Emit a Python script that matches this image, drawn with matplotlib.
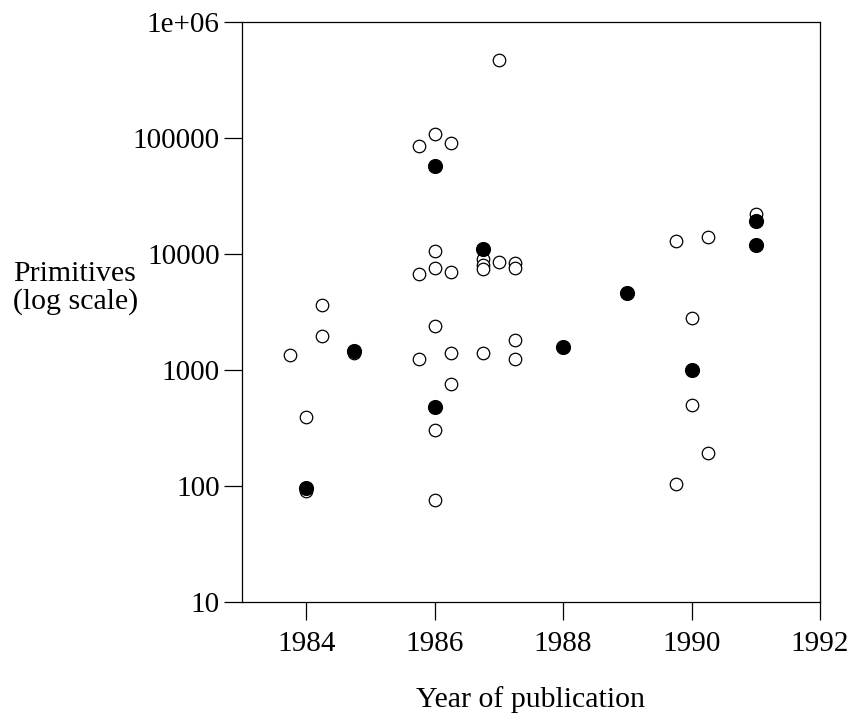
import matplotlib
matplotlib.use('Agg')
import matplotlib.pyplot as plt
from matplotlib.ticker import FixedLocator, NullLocator

plt.rcParams['font.family'] = ['Liberation Serif', 'DejaVu Serif']

# open circles: year, primitives
open_year = [1987, 1986, 1985.75, 1986.25,
             1986, 1986.75, 1986.75, 1986.75, 1987, 1987.25, 1987.25,
             1986, 1985.75, 1986.25, 1984.25, 1984.25, 1983.75, 1984.75,
             1986, 1985.75, 1986.25, 1986.75, 1987.25, 1987.25, 1986.25,
             1986, 1984, 1984, 1986,
             1991, 1989.75, 1990.25, 1990, 1990, 1990.25, 1989.75]
open_prims = [470000, 108000, 85000, 91000,
              10700, 9000, 8100, 7400, 8500, 8400, 7500,
              7500, 6700, 6950, 3600, 1960, 1350, 1400,
              2380, 1240, 1390, 1390, 1810, 1240, 757,
              305, 396, 91, 76,
              22000, 13000, 14100, 2790, 497, 191, 104]

# filled circles
filled_year = [1986, 1986.75, 1984.75, 1988, 1986, 1984,
               1991, 1991, 1989, 1990]
filled_prims = [57000, 11000, 1470, 1590, 477, 97,
                19200, 12000, 4580, 1000]

yticks = [10, 100, 1000, 10000, 100000, 1000000]
ytick_labels = ['10', '100', '1000', '10000', '100000', '1e+06']
xticks = [1984, 1986, 1988, 1990, 1992]

fig = plt.figure(figsize=(8.53, 7.25), dpi=100)
ax = fig.add_axes([242/853, 1-602/725, (820-242)/853, (602-22)/725])

ax.plot(open_year, open_prims, 'o', ls='none', ms=9, mfc='white',
        mec='black', mew=0.9)
ax.plot(filled_year, filled_prims, 'o', ls='none', ms=10, mfc='black',
        mec='black', mew=0.9)

ax.set_yscale('log')
ax.set_ylim(10, 1e6)
ax.set_xlim(1983, 1992)
ax.yaxis.set_major_locator(FixedLocator(yticks))
ax.yaxis.set_minor_locator(NullLocator())
ax.set_yticks(yticks)
ax.set_yticklabels(ytick_labels)
ax.set_xticks(xticks)
ax.set_xticklabels([str(x) for x in xticks])

for s in ax.spines.values():
    s.set_linewidth(0.9)
ax.tick_params(direction='out', length=13, width=0.9, labelsize=21, pad=8)
ax.tick_params(axis='y', pad=3)

ax.set_xlabel('Year of publication', fontsize=21.5, labelpad=21)
fig.text(13/853, 1-288/725, 'Primitives\n(log scale)', fontsize=21.5,
         ha='left', va='center', multialignment='left', linespacing=1.05)

fig.savefig('out.png', dpi=100)
